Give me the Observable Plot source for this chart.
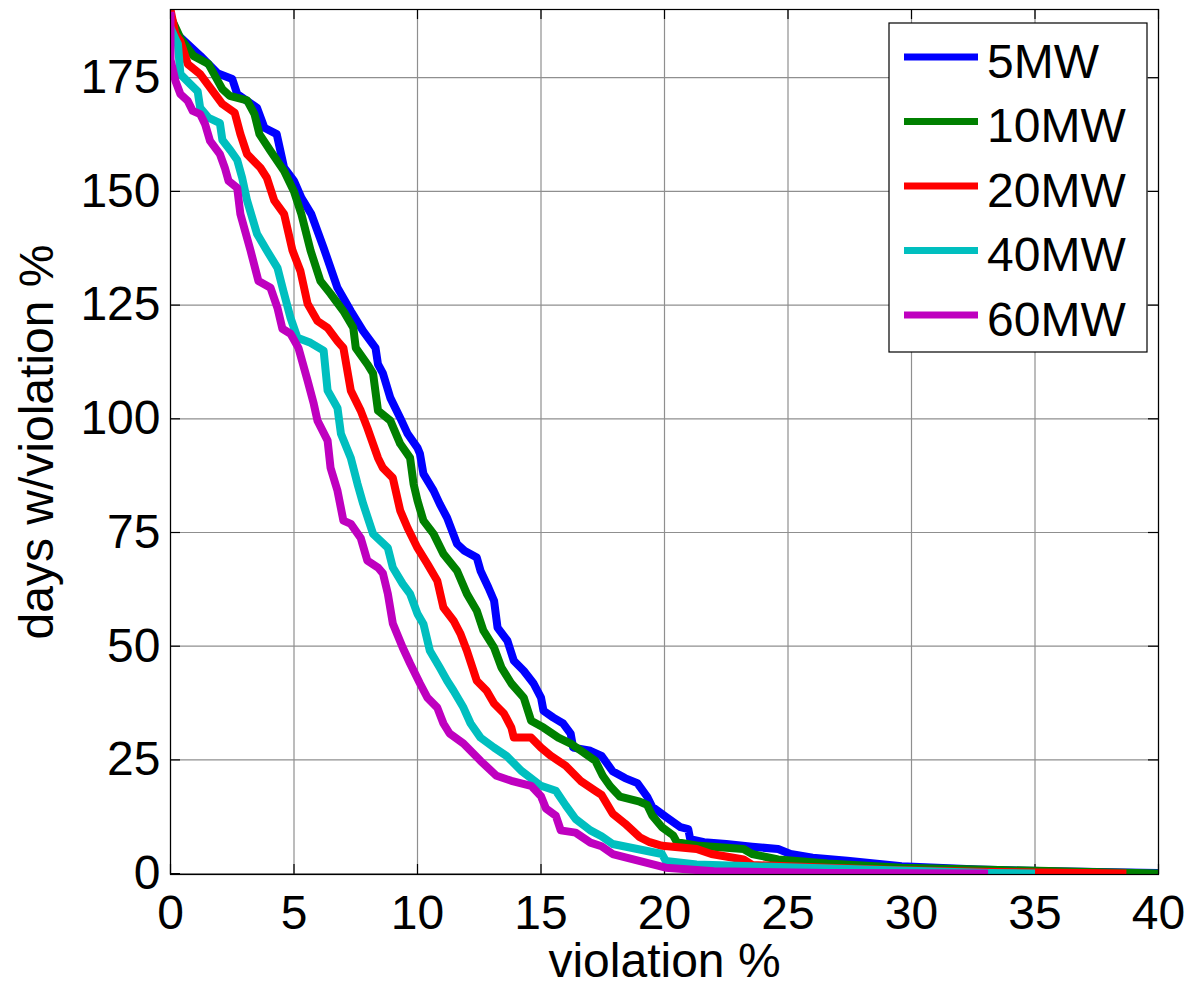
<!DOCTYPE html>
<html><head><meta charset="utf-8">
<script src="https://cdn.jsdelivr.net/npm/d3@7"></script>
<script src="https://cdn.jsdelivr.net/npm/@observablehq/plot@0.6"></script>
<style>
html,body{margin:0;padding:0;background:#fff;}
#chart{position:relative;width:1191px;height:985px;}
</style></head><body><div id="chart"></div>
<script>
const seriesNames = ["5MW", "10MW", "20MW", "40MW", "60MW"];
const seriesColors = ["#0000ff", "#008000", "#ff0000", "#00bfbf", "#bf00bf"];

const x5MW = [0, 0.12, 1.21, 1.9, 2.5, 2.7, 3.5, 3.8, 4.3, 4.6, 5.0, 5.3, 5.7, 6.2, 6.76, 7.3, 7.8, 8.3, 8.4, 8.6, 8.9, 9.3, 9.6, 10.0, 10.1, 10.24, 10.65, 10.9, 11.2, 11.6, 11.9, 12.4, 12.55, 12.87, 13.1, 13.24, 13.64, 13.9, 14.3, 14.7, 15.0, 15.1, 15.5, 15.9, 16.2, 16.3, 17.0, 17.45, 17.9, 18.4, 18.9, 19.3, 19.5, 20.05, 20.65, 20.96, 21.04, 21.6, 22.5, 23.55, 24.6, 25.1, 26.0, 27.4, 29.6, 32.7, 35.7, 40];
const y5MW = [188, 185.3, 179.8, 176, 174.7, 171.4, 168.4, 164, 162.6, 155.2, 152.3, 148.6, 145, 137.6, 128.8, 123.7, 119.3, 115.6, 112, 110, 104.6, 100.2, 96.7, 93.6, 92.3, 87.9, 84.2, 81.3, 78.2, 72.5, 71, 69.5, 66.6, 62.9, 60, 54.1, 51.2, 46.8, 44.6, 41.8, 38.7, 35.8, 34.3, 33, 30.8, 27.7, 27, 25.9, 22.5, 21, 19.9, 16.9, 14.7, 12.5, 10.2, 9.8, 7.6, 6.9, 6.5, 5.9, 5.4, 4.3, 3.5, 2.8, 1.6, 0.9, 0.5, 0.15];

const x10MW = [0, 0.4, 0.93, 1.54, 2.1, 2.4, 3.1, 3.4, 3.6, 4.05, 4.6, 5.0, 5.3, 5.67, 6.07, 6.48, 7.0, 7.4, 7.5, 7.97, 8.2, 8.4, 8.9, 9.3, 9.7, 9.84, 10.0, 10.24, 10.65, 11.05, 11.6, 12.0, 12.4, 12.67, 13.1, 13.4, 13.8, 14.3, 14.6, 15.1, 15.7, 16.2, 17.2, 17.5, 17.8, 18.2, 19.0, 19.3, 19.5, 19.9, 20.35, 20.5, 21.4, 23.2, 23.55, 24.6, 26.6, 29.6, 32.7, 40];
const y10MW = [188.5, 183.7, 179.8, 178, 172.5, 171, 170, 167, 162.6, 158.9, 154.5, 150, 145, 137, 130.3, 127.5, 123.7, 120, 115.6, 112, 110, 101.8, 99.6, 94.5, 91.4, 85.7, 82, 77.6, 74.7, 70.3, 66.6, 61.5, 57.8, 53.4, 49.7, 45.3, 41.8, 38.7, 33.6, 32.1, 29.9, 28.6, 24.8, 21.5, 19.2, 16.9, 15.8, 15.1, 12.8, 10.2, 8.4, 6.9, 6.1, 5.4, 4.3, 3.1, 2.2, 1.3, 0.9, 0];

const x20MW = [0, 0.2, 0.4, 0.7, 1.2, 1.5, 2.1, 2.6, 2.83, 3.1, 3.64, 3.9, 4.2, 4.6, 4.94, 5.26, 5.55, 5.95, 6.36, 6.76, 7.0, 7.3, 7.7, 7.97, 8.4, 8.6, 9.0, 9.3, 9.6, 10.0, 10.4, 10.8, 11.05, 11.46, 11.74, 12.0, 12.4, 12.8, 13.1, 13.5, 13.8, 13.9, 14.6, 15.0, 15.4, 16.0, 16.6, 17.2, 17.45, 17.9, 18.4, 19.0, 19.4, 19.9, 21.3, 21.9, 23.2, 23.55, 26.6, 29.6, 32.7, 38.7];
const y20MW = [190, 184.6, 183, 178, 175.8, 173.6, 169.2, 167.3, 162.6, 158.2, 155.2, 153, 148, 145, 137, 132.5, 125.3, 121.5, 120, 117.1, 115.6, 106.2, 101.8, 98, 91.4, 89.2, 87, 79.8, 76, 71.6, 68.1, 64.4, 58.5, 55.6, 52.7, 49, 42.4, 40.2, 37.4, 35.2, 32.1, 29.9, 29.9, 27.7, 25.9, 23.7, 20.4, 18.2, 17.3, 13.2, 11, 8, 6.9, 6.1, 5.4, 4.3, 3.1, 1.9, 1.3, 0.75, 0.4, 0];

const x40MW = [0, 0.2, 0.3, 0.4, 0.8, 1.1, 1.2, 1.54, 2.0, 2.1, 2.43, 2.7, 2.9, 3.1, 3.5, 3.9, 4.33, 4.57, 4.86, 5.14, 5.67, 6.2, 6.36, 6.76, 6.9, 7.3, 7.57, 7.8, 8.2, 8.8, 9.0, 9.4, 9.7, 10.0, 10.24, 10.5, 10.9, 11.2, 11.46, 11.86, 12.15, 12.55, 13.1, 13.6, 14.2, 15.0, 15.6, 16.0, 16.4, 17.0, 17.45, 17.9, 19.9, 20.05, 21.3, 23.55, 28.1, 33.2, 35.0];
const y40MW = [186, 183.5, 182.4, 175.8, 173.6, 172, 168.4, 166.2, 165, 161.3, 159, 156.9, 153, 148, 140.7, 137, 133.2, 128.1, 122.2, 117.8, 116.7, 115, 106.2, 102.4, 96.7, 91.4, 85.7, 81.3, 74.7, 71.6, 67.3, 63.7, 61.5, 57.1, 54.9, 49, 45.3, 42.4, 40.2, 36.5, 33, 29.9, 27.7, 25.9, 22.6, 19.3, 18.2, 15, 12, 9.5, 8.2, 6.5, 4.3, 2.8, 2.0, 1.6, 0.9, 0.15, 0];

const x60MW = [0, 0, 0.2, 0.4, 0.7, 0.9, 1.2, 1.4, 1.6, 2.0, 2.2, 2.35, 2.7, 2.83, 3.24, 3.56, 4.05, 4.33, 4.53, 4.86, 5.18, 5.55, 5.8, 5.95, 6.36, 6.48, 6.76, 7.0, 7.3, 7.7, 7.97, 8.4, 8.6, 8.8, 9.0, 9.4, 9.7, 10.1, 10.4, 10.8, 11.05, 11.3, 11.86, 12.55, 13.2, 13.8, 14.6, 15.0, 15.2, 15.6, 15.8, 16.4, 17.0, 17.45, 17.9, 20.05, 22.0, 26.6, 33.1];
const y60MW = [189.5, 179, 174.3, 171.4, 169.9, 167.7, 167, 164.8, 161.1, 158.2, 155.2, 152.3, 150.8, 145, 137, 130.3, 128.8, 124.4, 119.8, 118.7, 115.6, 108.4, 103.3, 99.6, 95.2, 89.2, 84.2, 77.6, 76.9, 73.8, 68.8, 67.3, 66, 61.5, 55, 49.7, 46.2, 41.8, 38.7, 36.5, 33, 30.8, 28.6, 24.8, 21.5, 20.4, 19.3, 17, 14.3, 12.7, 9.5, 9, 6.8, 6.0, 4.3, 1.3, 0.5, 0.15, 0];

const xTicks = [0, 5, 10, 15, 20, 25, 30, 35, 40];
const yTicks = [0, 25, 50, 75, 100, 125, 150, 175];
const xLabel = "violation %";
const yLabel = "days w/violation %";

const seriesX = [x5MW, x10MW, x20MW, x40MW, x60MW];
const seriesY = [y5MW, y10MW, y20MW, y40MW, y60MW];
const rows = [];
seriesX.forEach((xs, i) => xs.forEach((x, j) => rows.push({series: seriesNames[i], x, y: seriesY[i][j]})));

const W = 1191, H = 985, mL = 170, mR = 33, mT = 9, mB = 111;
const plotW = W - mL - mR, plotH = H - mT - mB;
const font = "'Liberation Sans', Arial, Helvetica, sans-serif";

const plot = Plot.plot({
  width: W, height: H,
  marginLeft: mL, marginRight: mR, marginTop: mT, marginBottom: mB,
  style: {fontFamily: font, fontSize: "48px", color: "#000", background: "#fff"},
  x: {domain: [0, 40]},
  y: {domain: [-0.2, 190]},
  color: {domain: seriesNames, range: seriesColors},
  marks: [
    Plot.gridX(xTicks, {stroke: "#8f8f8f", strokeOpacity: 1, strokeWidth: 1.2}),
    Plot.gridY(yTicks, {stroke: "#8f8f8f", strokeOpacity: 1, strokeWidth: 1.2}),
    Plot.tickX(xTicks, {x: d => d, insetTop: plotH - 10, stroke: "#000", strokeWidth: 1.2}),
    Plot.tickX(xTicks, {x: d => d, insetBottom: plotH - 10, stroke: "#000", strokeWidth: 1.2}),
    Plot.tickY(yTicks, {y: d => d, insetRight: plotW - 10, stroke: "#000", strokeWidth: 1.2}),
    Plot.tickY(yTicks, {y: d => d, insetLeft: plotW - 10, stroke: "#000", strokeWidth: 1.2}),
    Plot.line(rows, {x: "x", y: "y", z: "series", stroke: "series", strokeWidth: 8, strokeLinecap: "butt", strokeLinejoin: "round", curve: "linear", clip: true}),
    Plot.frame({stroke: "#000", strokeWidth: 1.2}),
    Plot.axisX(xTicks, {tickSize: 0, tickPadding: 20, fontSize: 48, label: xLabel, labelAnchor: "center", labelOffset: 102, labelArrow: "none"}),
    Plot.axisY(yTicks, {tickSize: 0, tickPadding: 10, fontSize: 48, label: yLabel, labelAnchor: "center", labelOffset: 152, labelArrow: "none"})
  ]
});

// Legend (drawn into the same SVG)
const svg = d3.select(plot);
const lg = svg.append("g").attr("class", "legend");
const boxX = 889, boxY = 23, boxW = 258, boxH = 329;
lg.append("rect").attr("x", boxX).attr("y", boxY).attr("width", boxW).attr("height", boxH)
  .attr("fill", "#fff").attr("stroke", "#000").attr("stroke-width", 1.2);
seriesNames.forEach((name, i) => {
  const cy = 57 + i * 64.5;
  lg.append("line").attr("x1", 904).attr("x2", 978).attr("y1", cy).attr("y2", cy)
    .attr("stroke", seriesColors[i]).attr("stroke-width", 7);
  lg.append("text").attr("x", 987).attr("y", cy + 3.5).attr("dy", "0.36em")
    .attr("text-anchor", "start")
    .attr("font-family", font).attr("font-size", 48).attr("fill", "#000").text(name);
});

document.getElementById("chart").appendChild(plot);
</script>
</body></html>
